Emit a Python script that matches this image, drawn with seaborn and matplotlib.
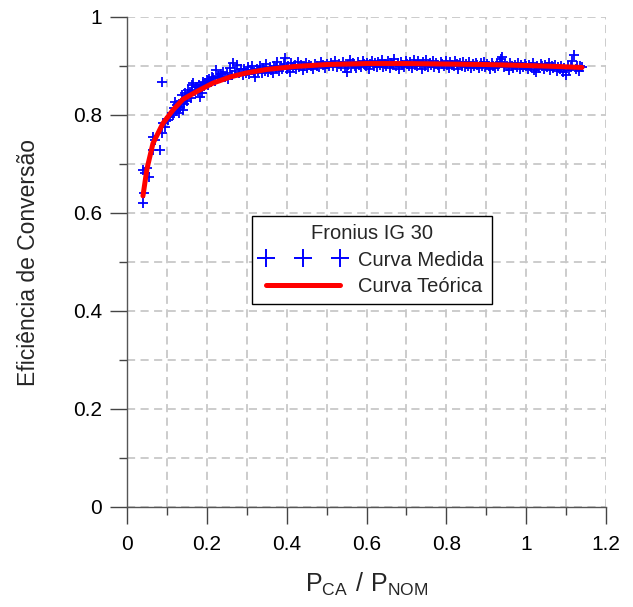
import matplotlib
matplotlib.use("Agg")
import matplotlib.pyplot as plt
from matplotlib.ticker import MultipleLocator, FuncFormatter
from matplotlib.lines import Line2D
import seaborn as sns
import pandas as pd

# ---- data ----
meas_x_low = [0.041, 0.042, 0.039, 0.045, 0.050, 0.055, 0.065, 0.065, 0.070, 0.083,
              0.088, 0.087, 0.090, 0.095, 0.103, 0.108, 0.112, 0.115, 0.118, 0.120,
              0.122, 0.125, 0.128, 0.130, 0.133, 0.135, 0.137, 0.140, 0.141, 0.143,
              0.145, 0.148, 0.150, 0.154, 0.156, 0.158, 0.160, 0.162, 0.164, 0.166,
              0.170, 0.172, 0.175, 0.178, 0.180, 0.183, 0.185, 0.187, 0.190, 0.193,
              0.196, 0.200, 0.203, 0.206, 0.210, 0.213, 0.216, 0.220, 0.224, 0.228,
              0.232, 0.236, 0.241, 0.245, 0.250, 0.254, 0.258, 0.262, 0.266, 0.270,
              0.275, 0.280, 0.285]
meas_y_low = [0.621, 0.641, 0.688, 0.682, 0.692, 0.673, 0.729, 0.755, 0.749, 0.729,
              0.763, 0.867, 0.784, 0.775, 0.790, 0.796, 0.805, 0.800, 0.815, 0.827,
              0.808, 0.820, 0.812, 0.805, 0.817, 0.825, 0.841, 0.830, 0.810, 0.822,
              0.844, 0.835, 0.828, 0.851, 0.840, 0.846, 0.835, 0.861, 0.852, 0.865,
              0.848, 0.857, 0.858, 0.850, 0.862, 0.837, 0.855, 0.844, 0.868, 0.860,
              0.866, 0.871, 0.862, 0.874, 0.868, 0.878, 0.875, 0.870, 0.892, 0.880,
              0.876, 0.884, 0.888, 0.878, 0.886, 0.874, 0.895, 0.882, 0.906, 0.889,
              0.902, 0.885, 0.894]

meas_x_high = [0.290, 0.294, 0.298, 0.302, 0.306, 0.310, 0.314, 0.318, 0.321, 0.325,
               0.329, 0.333, 0.337, 0.341, 0.345, 0.349, 0.353, 0.357, 0.361, 0.365,
               0.369, 0.373, 0.377, 0.381, 0.385, 0.389, 0.393, 0.396, 0.400, 0.404,
               0.408, 0.412, 0.416, 0.420, 0.424, 0.428, 0.432, 0.436, 0.440, 0.444,
               0.448, 0.452, 0.456, 0.460, 0.465, 0.470, 0.475, 0.480, 0.485, 0.490,
               0.495, 0.500, 0.505, 0.510, 0.515, 0.520, 0.525, 0.530, 0.535, 0.540,
               0.545, 0.550, 0.554, 0.558, 0.562, 0.566, 0.570, 0.574, 0.578, 0.582,
               0.586, 0.590, 0.594, 0.598, 0.602, 0.606, 0.610, 0.614, 0.618, 0.622,
               0.626, 0.630, 0.634, 0.638, 0.642, 0.646, 0.650, 0.654, 0.658, 0.662,
               0.666, 0.670, 0.674, 0.678, 0.682, 0.686, 0.690, 0.694, 0.698, 0.702,
               0.706, 0.710, 0.714, 0.718, 0.722, 0.726, 0.730, 0.734, 0.738, 0.742,
               0.746, 0.750, 0.754, 0.758, 0.762, 0.766, 0.770, 0.774, 0.778, 0.782,
               0.786, 0.790, 0.794, 0.798, 0.802, 0.806, 0.810, 0.814, 0.818, 0.822,
               0.826, 0.830, 0.834, 0.838, 0.842, 0.846, 0.850, 0.854, 0.858, 0.862,
               0.866, 0.870, 0.874, 0.878, 0.882, 0.886, 0.890, 0.894, 0.898, 0.902,
               0.906, 0.910, 0.914, 0.918, 0.922, 0.926, 0.930, 0.934, 0.938, 0.940,
               0.944, 0.948, 0.952, 0.956, 0.960, 0.964, 0.968, 0.972, 0.976, 0.980,
               0.984, 0.988, 0.992, 0.996, 1.000, 1.004, 1.008, 1.012, 1.016, 1.020,
               1.024, 1.028, 1.032, 1.036, 1.040, 1.044, 1.048, 1.052, 1.056, 1.060,
               1.064, 1.068, 1.072, 1.076, 1.080, 1.084, 1.088, 1.092, 1.096, 1.100,
               1.104, 1.108, 1.112, 1.116, 1.120, 1.124, 1.128, 1.132, 1.136, 1.140]
meas_y_high = [0.882, 0.893, 0.886, 0.897, 0.884, 0.891, 0.899, 0.887, 0.878, 0.894,
               0.889, 0.901, 0.885, 0.896, 0.890, 0.904, 0.888, 0.897, 0.892, 0.886,
               0.900, 0.895, 0.908, 0.890, 0.899, 0.893, 0.905, 0.916, 0.894, 0.901,
               0.888, 0.906, 0.897, 0.902, 0.893, 0.909, 0.898, 0.903, 0.891, 0.900,
               0.906, 0.896, 0.903, 0.899, 0.894, 0.905, 0.900, 0.897, 0.908, 0.902,
               0.896, 0.904, 0.899, 0.907, 0.901, 0.911, 0.897, 0.904, 0.900, 0.909,
               0.896, 0.888, 0.903, 0.912, 0.899, 0.906, 0.901, 0.895, 0.908, 0.903,
               0.898, 0.910, 0.904, 0.899, 0.907, 0.893, 0.905, 0.911, 0.900, 0.906,
               0.897, 0.909, 0.902, 0.913, 0.898, 0.905, 0.901, 0.910, 0.895, 0.907,
               0.902, 0.914, 0.899, 0.906, 0.893, 0.909, 0.903, 0.898, 0.911, 0.905,
               0.900, 0.908, 0.896, 0.912, 0.903, 0.899, 0.910, 0.904, 0.894, 0.908,
               0.901, 0.913, 0.897, 0.906, 0.902, 0.910, 0.898, 0.907, 0.903, 0.895,
               0.909, 0.904, 0.899, 0.911, 0.902, 0.896, 0.908, 0.903, 0.899, 0.910,
               0.905, 0.894, 0.907, 0.901, 0.909, 0.897, 0.905, 0.900, 0.908, 0.896,
               0.904, 0.899, 0.907, 0.902, 0.895, 0.906, 0.901, 0.909, 0.897, 0.904,
               0.899, 0.893, 0.906, 0.901, 0.896, 0.905, 0.900, 0.908, 0.914, 0.919,
               0.897, 0.904, 0.899, 0.891, 0.906, 0.901, 0.896, 0.903, 0.898, 0.907,
               0.893, 0.902, 0.897, 0.905, 0.900, 0.894, 0.903, 0.898, 0.906, 0.892,
               0.888, 0.901, 0.896, 0.904, 0.899, 0.893, 0.902, 0.897, 0.906, 0.891,
               0.900, 0.895, 0.903, 0.889, 0.898, 0.893, 0.901, 0.887, 0.896, 0.882,
               0.900, 0.891, 0.897, 0.910, 0.922, 0.894, 0.899, 0.890, 0.901, 0.897]

curve_x = [0.040, 0.050, 0.065, 0.090, 0.115, 0.140, 0.175, 0.215, 0.260, 0.300,
           0.350, 0.420, 0.500, 0.600, 0.700, 0.800, 0.900, 1.000, 1.080, 1.140]
curve_y = [0.635, 0.690, 0.742, 0.783, 0.810, 0.832, 0.848, 0.865, 0.878, 0.886,
           0.893, 0.899, 0.903, 0.905, 0.905, 0.904, 0.903, 0.901, 0.899, 0.897]

x_ticks = [0, 0.2, 0.4, 0.6, 0.8, 1.0, 1.2]
y_ticks = [0, 0.2, 0.4, 0.6, 0.8, 1.0]

legend_title = "Fronius IG 30"
label_meas = "Curva Medida"
label_curve = "Curva Teórica"

# ---- plot ----
sns.set_theme(style="white")
plt.rcParams['font.family'] = ['Liberation Sans', 'DejaVu Sans']
plt.rcParams['mathtext.fontset'] = 'custom'
plt.rcParams['mathtext.rm'] = 'Liberation Sans'

fig = plt.figure(figsize=(6.33, 6.07), dpi=100)
ax = fig.add_axes([127/633, 100/607, 479/633, 490/607])

meas = pd.DataFrame({"x": meas_x_low + meas_x_high, "y": meas_y_low + meas_y_high})
curve = pd.DataFrame({"x": curve_x, "y": curve_y})

sns.scatterplot(data=meas, x="x", y="y", marker="+", s=50, color="#0000ff",
                linewidth=1.3, ax=ax, zorder=3, legend=False)
sns.lineplot(data=curve, x="x", y="y", color="#ff0000", linewidth=3.6, ax=ax,
             zorder=4, legend=False, sort=False)

ax.set_xlim(0, 1.2)
ax.set_ylim(0, 1.0)
ax.set_xticks(x_ticks)
ax.set_yticks(y_ticks)
ax.xaxis.set_minor_locator(MultipleLocator(0.1))
ax.yaxis.set_minor_locator(MultipleLocator(0.1))
fmt = FuncFormatter(lambda v, p: f"{v:g}")
ax.xaxis.set_major_formatter(fmt)
ax.yaxis.set_major_formatter(fmt)

ax.set_axisbelow(True)
ax.grid(which="both", linestyle=(0, (4.5, 3)), color="#c8c8c8", linewidth=1.3)

for s in ["top", "right"]:
    ax.spines[s].set_visible(False)
for s in ["left", "bottom"]:
    ax.spines[s].set_color("#555555")
    ax.spines[s].set_linewidth(1.0)
    ax.spines[s].set_zorder(5)

ax.tick_params(which="major", direction="out", length=12, width=1.0, color="#444444",
               labelsize=15, labelcolor="black", bottom=True, left=True)
ax.tick_params(axis="y", which="major", pad=6)
ax.tick_params(axis="x", which="major", pad=8)
ax.tick_params(which="minor", direction="out", length=6, width=1.0, color="#444444",
               bottom=True, left=True)

ax.set_xlabel(r"$\mathregular{P_{CA}\ /\ P_{NOM}}$", fontsize=18, labelpad=12)
ax.set_ylabel("Eficiência de Conversão", fontsize=16.5, labelpad=24)

handles = [Line2D([], [], linestyle="none", marker="+", markersize=13,
                  markeredgewidth=1.4, color="#0000ff"),
           Line2D([], [], color="#ff0000", linewidth=3.6)]
leg = ax.legend(handles, [label_meas, label_curve], title=legend_title, loc="center",
                bbox_to_anchor=(0.511, 0.504), fontsize=14.5, title_fontsize=14.5,
                frameon=True, fancybox=False, edgecolor="black", framealpha=1,
                handlelength=4.3, handletextpad=0.6, numpoints=3, borderpad=0.4,
                labelspacing=0.35)
leg.get_frame().set_linewidth(1.0)

fig.savefig("out.png", dpi=100)
